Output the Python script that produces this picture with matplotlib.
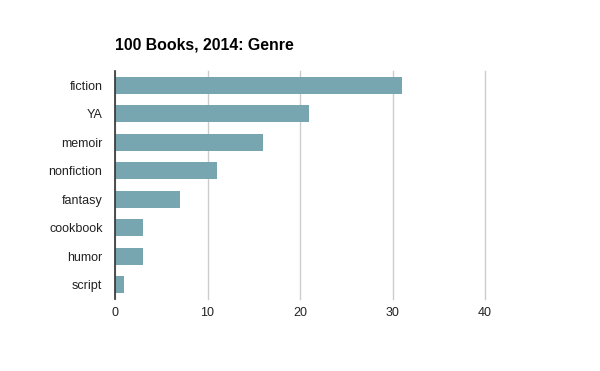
import numpy as np
import matplotlib
matplotlib.use("Agg")
import matplotlib.pyplot as plt

# data
genres = ["fiction", "YA", "memoir", "nonfiction", "fantasy", "cookbook", "humor", "script"]
counts = [31, 21, 16, 11, 7, 3, 3, 1]
xticks = [0, 10, 20, 30, 40]

bar_color = "#77a6b1"

plt.rcParams["font.family"] = ["Liberation Sans", "DejaVu Sans"]

fig = plt.figure(figsize=(6, 3.71), dpi=100)
ax = fig.add_axes([115/600, 72/371, 370/600, 228/371])

y = np.arange(len(genres))
ax.barh(y, counts, height=0.6, color=bar_color, zorder=2)
ax.set_ylim(len(genres) - 0.5, -0.5)
ax.set_xlim(0, 40)
ax.set_yticks(y)
ax.set_yticklabels(genres)
ax.set_xticks(xticks)

ax.grid(axis="x", color="#cccccc", linewidth=1, zorder=0)
for gl in ax.get_xgridlines():
    gl.set_clip_on(False)
for s in ["top", "right", "bottom"]:
    ax.spines[s].set_visible(False)
ax.spines["left"].set_color("#333333")
ax.spines["left"].set_linewidth(1.2)
ax.spines["left"].set_zorder(3)
ax.tick_params(axis="both", length=0, labelsize=9, labelcolor="#222222")
ax.tick_params(axis="y", pad=9)
ax.tick_params(axis="x", pad=6)

fig.text(115/600, 1 - 45/371, "100 Books, 2014: Genre", fontsize=11.4, fontweight="bold",
         ha="left", va="center", color="#000000")

fig.savefig("out.png", dpi=100)
